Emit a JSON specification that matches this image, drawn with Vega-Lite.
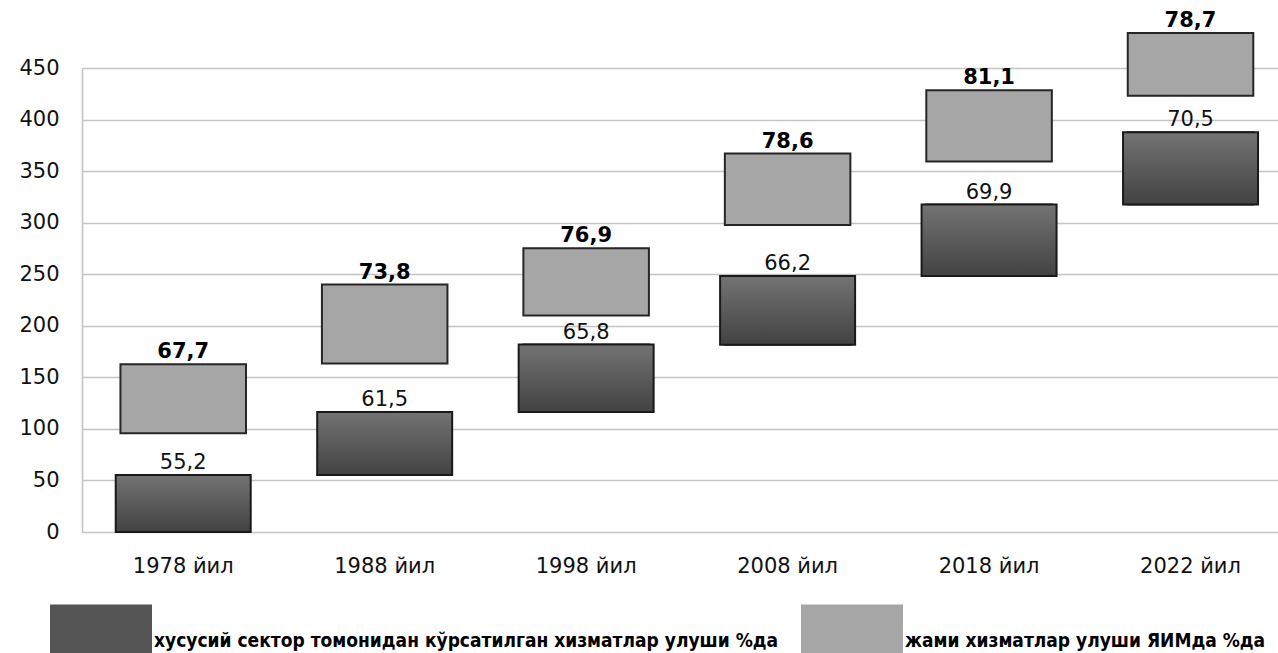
{
  "$schema": "https://vega.github.io/schema/vega-lite/v6.json",
  "autosize": {"type": "none"},
  "padding": {"left": 82, "top": 68, "right": 0, "bottom": 121},
  "width": 1196,
  "height": 464,
  "background": "white",
  "data": {
    "values": [
      {"year": "1978 йил", "series": "хусусий сектор томонидан кўрсатилган хизматлар улуши %да", "lo": 0, "hi": 55.2, "label": "55,2"},
      {"year": "1988 йил", "series": "хусусий сектор томонидан кўрсатилган хизматлар улуши %да", "lo": 55.2, "hi": 116.3, "label": "61,5"},
      {"year": "1998 йил", "series": "хусусий сектор томонидан кўрсатилган хизматлар улуши %да", "lo": 116.3, "hi": 181.8, "label": "65,8"},
      {"year": "2008 йил", "series": "хусусий сектор томонидан кўрсатилган хизматлар улуши %да", "lo": 181.6, "hi": 248.2, "label": "66,2"},
      {"year": "2018 йил", "series": "хусусий сектор томонидан кўрсатилган хизматлар улуши %да", "lo": 248.2, "hi": 317.5, "label": "69,9"},
      {"year": "2022 йил", "series": "хусусий сектор томонидан кўрсатилган хизматлар улуши %да", "lo": 317.5, "hi": 387.8, "label": "70,5"},
      {"year": "1978 йил", "series": "жами хизматлар улуши ЯИМда %да", "lo": 95.8, "hi": 162.7, "label": "67,7"},
      {"year": "1988 йил", "series": "жами хизматлар улуши ЯИМда %да", "lo": 163.4, "hi": 240.0, "label": "73,8"},
      {"year": "1998 йил", "series": "жами хизматлар улуши ЯИМда %да", "lo": 210.0, "hi": 275.2, "label": "76,9"},
      {"year": "2008 йил", "series": "жами хизматлар улуши ЯИМда %да", "lo": 297.7, "hi": 367.0, "label": "78,6"},
      {"year": "2018 йил", "series": "жами хизматлар улуши ЯИМда %да", "lo": 359.3, "hi": 428.5, "label": "81,1"},
      {"year": "2022 йил", "series": "жами хизматлар улуши ЯИМда %да", "lo": 423.0, "hi": 484.0, "label": "78,7"}
    ]
  },
  "encoding": {
    "x": {
      "field": "year", "type": "nominal", "sort": null,
      "scale": {"paddingInner": 0.33, "paddingOuter": 0.1333, "align": 0.628},
      "axis": {"title": null, "domain": false, "ticks": false, "labelAngle": 0, "labelPadding": 23, "labelFont": "DejaVu Sans", "labelFontSize": 21, "labelColor": "#111", "grid": false}
    },
    "y": {
      "field": "lo", "type": "quantitative",
      "scale": {"domain": [0, 450], "nice": false, "zero": true},
      "axis": {"title": null, "values": [0, 50, 100, 150, 200, 250, 300, 350, 400, 450], "ticks": false, "labelPadding": 23, "labelFont": "DejaVu Sans", "labelFontSize": 21, "labelColor": "#111", "grid": true, "gridColor": "#c4c4c4", "gridWidth": 1.6, "domain": true, "domainColor": "#c4c4c4", "domainWidth": 1.6}
    },
    "y2": {"field": "hi"}
  },
  "layer": [
    {
      "mark": {"type": "bar", "stroke": "#262626", "strokeWidth": 2, "width": {"band": 0.93}},
      "encoding": {
        "color": {
          "field": "series", "type": "nominal",
          "scale": {"domain": ["хусусий сектор томонидан кўрсатилган хизматлар улуши %да", "жами хизматлар улуши ЯИМда %да"], "range": ["#555555", "#a6a6a6"]},
          "legend": {
            "orient": "none", "legendX": -32, "legendY": 513, "direction": "horizontal", "title": null,
            "symbolType": "M-1,-0.55H1V0.55H-1Z", "symbolSize": 10404, "symbolStrokeWidth": 0, "symbolOpacity": 1,
            "labelFont": "DejaVu Sans Condensed", "labelFontWeight": "bold", "labelFontSize": 19, "labelColor": "#000",
            "labelOffset": 2, "labelLimit": 900, "labelBaseline": "top", "columnPadding": 22
          }
        }
      }
    },
    {
      "transform": [{"filter": "datum.series === 'хусусий сектор томонидан кўрсатилган хизматлар улуши %да'"}],
      "mark": {
        "type": "bar", "stroke": "#1a1a1a", "strokeWidth": 2,
        "fill": {"gradient": "linear", "x1": 0, "y1": 0, "x2": 0, "y2": 1, "stops": [{"offset": 0, "color": "#737373"}, {"offset": 1, "color": "#424242"}]}
      },
      "encoding": {}
    },
    {
      "transform": [{"filter": "datum.series === 'хусусий сектор томонидан кўрсатилган хизматлар улуши %да'"}],
      "mark": {"type": "text", "baseline": "alphabetic", "dy": -6, "font": "DejaVu Sans", "fontSize": 21, "color": "#111"},
      "encoding": {"y": {"field": "hi", "type": "quantitative"}, "y2": null, "text": {"field": "label"}}
    },
    {
      "transform": [{"filter": "datum.series === 'жами хизматлар улуши ЯИМда %да'"}],
      "mark": {"type": "text", "baseline": "alphabetic", "dy": -6, "font": "DejaVu Sans", "fontSize": 21, "fontWeight": "bold", "color": "#000"},
      "encoding": {"y": {"field": "hi", "type": "quantitative"}, "y2": null, "text": {"field": "label"}}
    }
  ],
  "config": {"view": {"stroke": null}}
}
